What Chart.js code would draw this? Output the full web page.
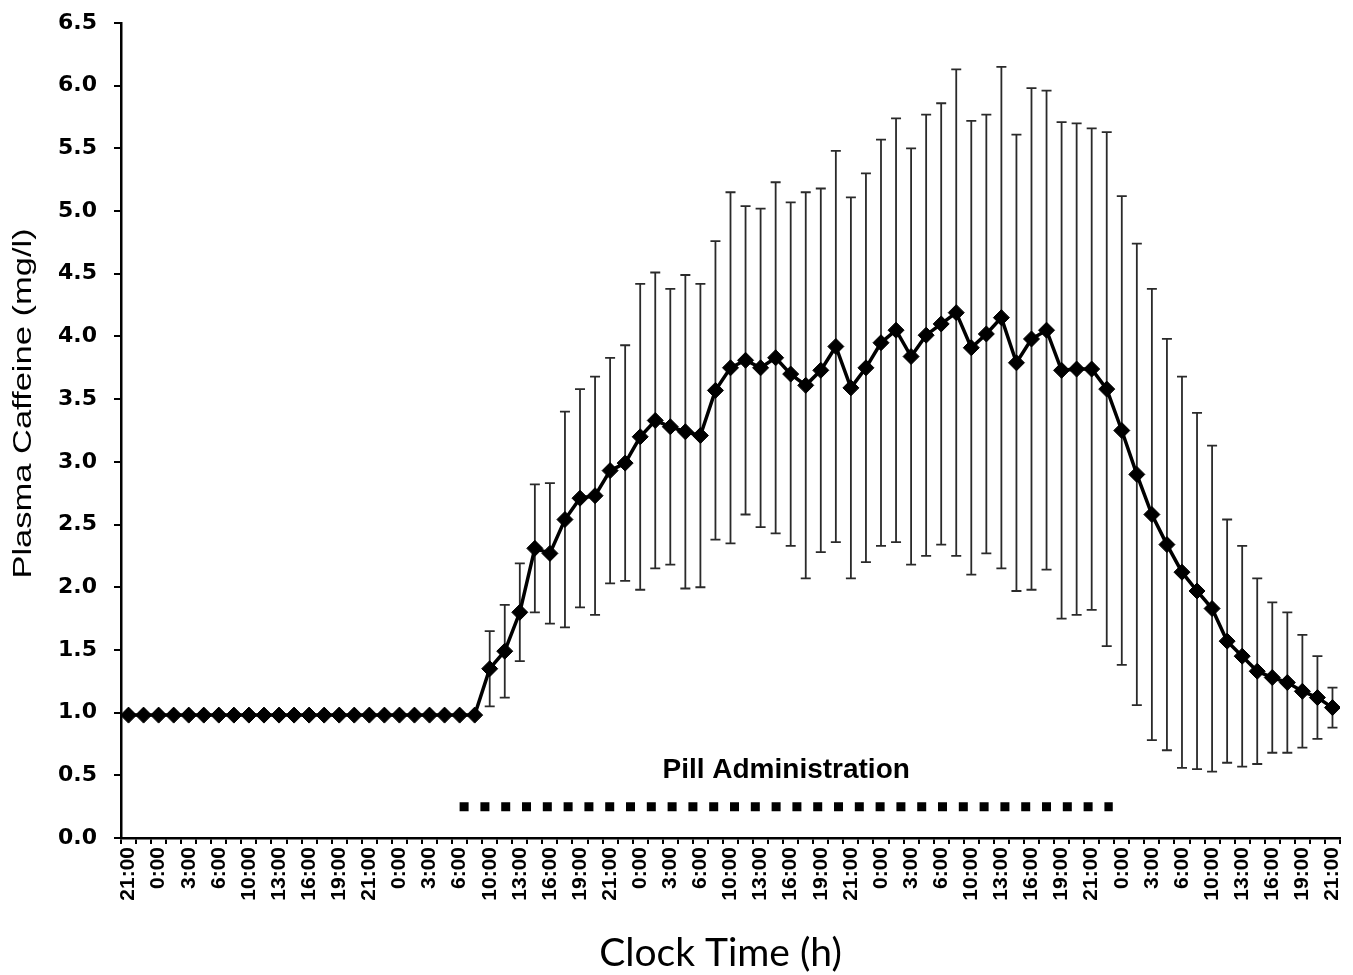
<!DOCTYPE html>
<html>
<head>
<meta charset="utf-8">
<script src="https://cdn.jsdelivr.net/npm/chart.js@4.4.1/dist/chart.umd.min.js"></script>
<style>
  body { margin: 0; background: #fff; }
  #wrap { width: 1353px; height: 975px; }
</style>
</head>
<body>
<div id="wrap"><canvas id="chart" width="1353" height="975"></canvas></div>
<script>
// 81 samples, a clock label on every second one
const tickLabels = [
  "21:00", "0:00", "3:00", "6:00", "10:00", "13:00", "16:00", "19:00",
  "21:00", "0:00", "3:00", "6:00", "10:00", "13:00", "16:00", "19:00",
  "21:00", "0:00", "3:00", "6:00", "10:00", "13:00", "16:00", "19:00",
  "21:00", "0:00", "3:00", "6:00", "10:00", "13:00", "16:00", "19:00",
  "21:00", "0:00", "3:00", "6:00", "10:00", "13:00", "16:00", "19:00",
  "21:00"
];

// mean plasma caffeine (mg/l)
const means = [
  0.98, 0.98, 0.98, 0.98, 0.98, 0.98, 0.98, 0.98, 0.98, 0.98,
  0.98, 0.98, 0.98, 0.98, 0.98, 0.98, 0.98, 0.98, 0.98, 0.98,
  0.98, 0.98, 0.98, 0.98, 1.35, 1.49, 1.80, 2.31, 2.27, 2.54,
  2.71, 2.73, 2.93, 2.99, 3.20, 3.33, 3.28, 3.24, 3.21, 3.57,
  3.75, 3.81, 3.75, 3.83, 3.70, 3.61, 3.73, 3.92, 3.59, 3.75,
  3.95, 4.05, 3.84, 4.01, 4.10, 4.19, 3.91, 4.02, 4.15, 3.79,
  3.98, 4.05, 3.73, 3.74, 3.74, 3.58, 3.25, 2.90, 2.58, 2.34,
  2.12, 1.97, 1.83, 1.57, 1.45, 1.33, 1.28, 1.24, 1.17, 1.12,
  1.04
];

// standard deviation (error bar half length)
const sd = [
  0, 0, 0, 0, 0, 0, 0, 0, 0, 0,
  0, 0, 0, 0, 0, 0, 0, 0, 0, 0,
  0, 0, 0, 0, 0.30, 0.37, 0.39, 0.51, 0.56, 0.86,
  0.87, 0.95, 0.90, 0.94, 1.22, 1.18, 1.10, 1.25, 1.21, 1.19,
  1.40, 1.23, 1.27, 1.40, 1.37, 1.54, 1.45, 1.56, 1.52, 1.55,
  1.62, 1.69, 1.66, 1.76, 1.76, 1.94, 1.81, 1.75, 2.00, 1.82,
  2.00, 1.91, 1.98, 1.96, 1.92, 2.05, 1.87, 1.84, 1.80, 1.64,
  1.56, 1.42, 1.30, 0.97, 0.88, 0.74, 0.60, 0.56, 0.45, 0.33,
  0.16
];

// pill administration period (sample index) and the level its bar is drawn at
const pillStart = 22;
const pillEnd = 65.4;
const pillLevel = 0.25;
const pillText = "Pill Administration";
const pillTextLevel = 0.54;

const xTitle = "Clock Time (h)";
const yTitle = "Plasma Caffeine (mg/l)";

const errorBars = {
  id: "errorBars",
  beforeDatasetsDraw(chart) {
    const { ctx, scales: { x, y } } = chart;
    ctx.save();
    ctx.strokeStyle = "#2a2a2a";
    ctx.lineWidth = 1.8;
    means.forEach((m, i) => {
      if (!sd[i]) return;
      const px = x.getPixelForValue(i);
      const top = y.getPixelForValue(m + sd[i]);
      const bot = y.getPixelForValue(m - sd[i]);
      ctx.beginPath();
      ctx.moveTo(px, top);
      ctx.lineTo(px, bot);
      ctx.moveTo(px - 5, top);
      ctx.lineTo(px + 5, top);
      ctx.moveTo(px - 5, bot);
      ctx.lineTo(px + 5, bot);
      ctx.stroke();
    });
    ctx.restore();
  },
  afterDatasetsDraw(chart) {
    const { ctx, scales: { x, y } } = chart;
    ctx.save();
    ctx.fillStyle = "#000";
    ctx.font = "bold 28px 'Liberation Sans', Arial, sans-serif";
    ctx.textAlign = "center";
    ctx.textBaseline = "middle";
    ctx.fillText(pillText, x.getPixelForValue((pillStart + pillEnd) / 2), y.getPixelForValue(pillTextLevel));
    ctx.restore();
  }
};

// axis titles drawn by hand so the stretched look of the original can be kept
const axisTitles = {
  id: "axisTitles",
  afterDraw(chart) {
    const { ctx, chartArea: a } = chart;
    ctx.save();
    ctx.fillStyle = "#000";
    ctx.textAlign = "center";
    ctx.textBaseline = "middle";
    ctx.font = "39px Lato, 'Open Sans', sans-serif";
    ctx.fillText(xTitle, (a.left + a.right) / 2 - 10, chart.height - 22);
    ctx.translate(24, (a.top + a.bottom) / 2 - 27);
    ctx.rotate(-Math.PI / 2);
    ctx.scale(1.38, 1);
    ctx.font = "25px 'Liberation Sans', Arial, sans-serif";
    ctx.fillText(yTitle, 0, 0);
    ctx.restore();
  }
};

new Chart(document.getElementById("chart"), {
  type: "line",
  data: {
    datasets: [{
      data: means.map((v, i) => ({ x: i, y: v })),
      borderColor: "#000",
      borderWidth: 3.5,
      pointStyle: "rectRot",
      pointRadius: 8,
      pointBackgroundColor: "#000",
      pointBorderColor: "#000",
      pointBorderWidth: 1,
      tension: 0
    }, {
      data: [{ x: pillStart, y: pillLevel }, { x: pillEnd, y: pillLevel }],
      borderColor: "#000",
      borderWidth: 9,
      borderDash: [9, 11.8],
      borderCapStyle: "butt",
      pointRadius: 0
    }]
  },
  options: {
    responsive: false,
    devicePixelRatio: 1,
    animation: false,
    layout: { padding: { top: 23, right: 13, bottom: 0, left: 0 } },
    plugins: { legend: { display: false }, tooltip: { enabled: false } },
    scales: {
      x: {
        type: "linear",
        min: -0.5,
        max: 80.5,
        afterBuildTicks: s => { s.ticks = means.map((_, i) => ({ value: i })); },
        afterFit: s => { s.height = 137; s.paddingLeft = 0; s.paddingRight = 0; },
        ticks: {
          autoSkip: false,
          maxRotation: 90,
          minRotation: 90,
          padding: 3,
          color: "#000",
          font: { family: "'Liberation Sans', Arial, sans-serif", size: 21, weight: "bold" },
          callback: (v, i) => i % 2 === 0 ? tickLabels[i / 2] : ""
        },
        grid: { offset: true, drawOnChartArea: false, tickLength: 6, color: "#000", lineWidth: 2 },
        border: { color: "#000", width: 2.5 }
      },
      y: {
        min: 0,
        max: 6.5,
        afterFit: s => { s.width = 121; s.paddingTop = 0; s.paddingBottom = 0; },
        ticks: {
          stepSize: 0.5,
          padding: 17,
          color: "#000",
          font: { family: "'DejaVu Sans', sans-serif", size: 22, weight: "bold" },
          callback: v => v.toFixed(1)
        },
        grid: { drawOnChartArea: false, tickLength: 7, color: "#000", lineWidth: 2 },
        border: { color: "#000", width: 2.5 }
      }
    }
  },
  plugins: [errorBars, axisTitles]
});
</script>
</body>
</html>
